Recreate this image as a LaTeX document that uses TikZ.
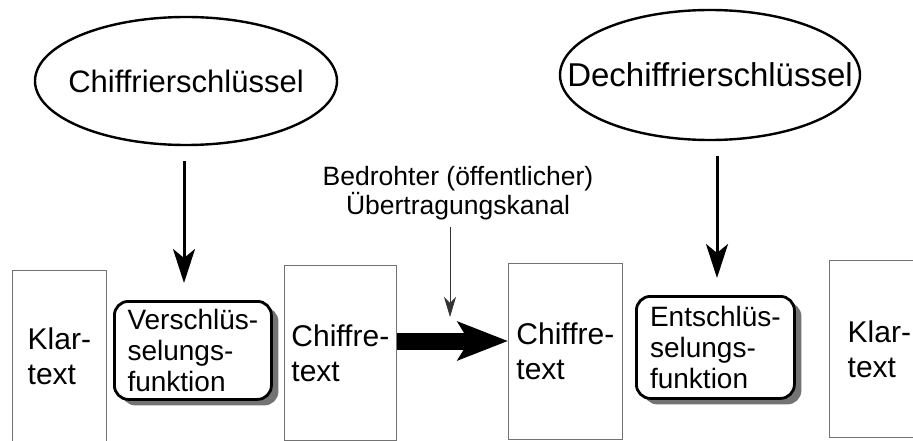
\documentclass[tikz,border=0pt]{standalone}
\usepackage{fontspec}
\setmainfont{Liberation Sans}
\usetikzlibrary{shapes.geometric,arrows.meta,shadows,calc}
\begin{document}
\begin{tikzpicture}[x=1pt,y=-1pt,
  keyshape/.style={ellipse, draw, line width=2.4pt, inner xsep=-40pt, inner ysep=0pt},
  paper/.style={draw=black!55, line width=0.7pt, anchor=north west, inner sep=0pt,
    align=left, font=\fontsize{30}{35}\selectfont},
  func/.style={draw, line width=2.8pt, rounded corners=14pt, fill=white,
    drop shadow={shadow xshift=7pt, shadow yshift=-6pt, fill=black!55, opacity=1},
    align=left, inner sep=0pt, anchor=north west, font=\fontsize{28}{31}\selectfont},
  keyarrow/.style={line width=3pt, -{Stealth[length=34pt, width=22pt, inset=9pt]}},
  thinarrow/.style={line width=0.8pt, black!80, -{Stealth[length=20pt, width=12pt, inset=6pt]}},
  bigarrow/.style={line width=17pt, -{Stealth[length=50pt, width=38pt, inset=11pt]}}]

% canvas
\path[use as bounding box, fill=white] (0,0) rectangle (913,441);

% keys
\node[keyshape, minimum width=302pt, minimum height=128pt,
      font=\fontsize{31}{35}\selectfont] (e1) at (186,81) {Chiffrierschlüssel};
\node[keyshape, minimum width=300pt, minimum height=130pt,
      font=\fontsize{33}{37}\selectfont] (e2) at (710,75) {Dechiffrierschlüssel};

% sheets of text
\node[paper, minimum width=94pt, minimum height=171pt] (k1) at (12,270) {Klar-\\text};
\node[paper, minimum width=112pt, minimum height=175pt] (c1) at (284,265) {Chiffre-\\text};
\node[paper, minimum width=114pt, minimum height=176pt] (c2) at (508,263) {Chiffre-\\text};
\node[paper, minimum width=100pt, minimum height=177pt] (k2) at (829,260) {Klar-\\text};

% functions
\node[func, minimum width=157pt, minimum height=98pt] (f1) at (113,300)
  {Verschlüs-\\selungs-\\funktion};
\node[func, minimum width=158pt, minimum height=102pt] (f2) at (635,295)
  {Entschlüs-\\selungs-\\funktion};

% channel label
\node[align=center, inner sep=0pt, font=\fontsize{26.5}{29}\selectfont] (lab) at (458,193)
  {Bedrohter (öffentlicher)\\Übertragungskanal};
\coordinate (hit) at (450,317);

% connectors
\draw[keyarrow] ($(e1.south)+(-2,15)$) -- ($(e1.south |- f1.north)+(-2,-17)$);
\draw[keyarrow] ($(e2.south)+(7,15)$) -- ($(e2.south |- f2.north)+(7,-17)$);
\draw[thinarrow] ($(lab.south -| hit)+(0,7)$) -- (hit);
\draw[bigarrow] ($(c1.north east)+(0,76)$) -- ($(c1.north east -| c2.west)+(0,76)$);
\end{tikzpicture}
\end{document}
